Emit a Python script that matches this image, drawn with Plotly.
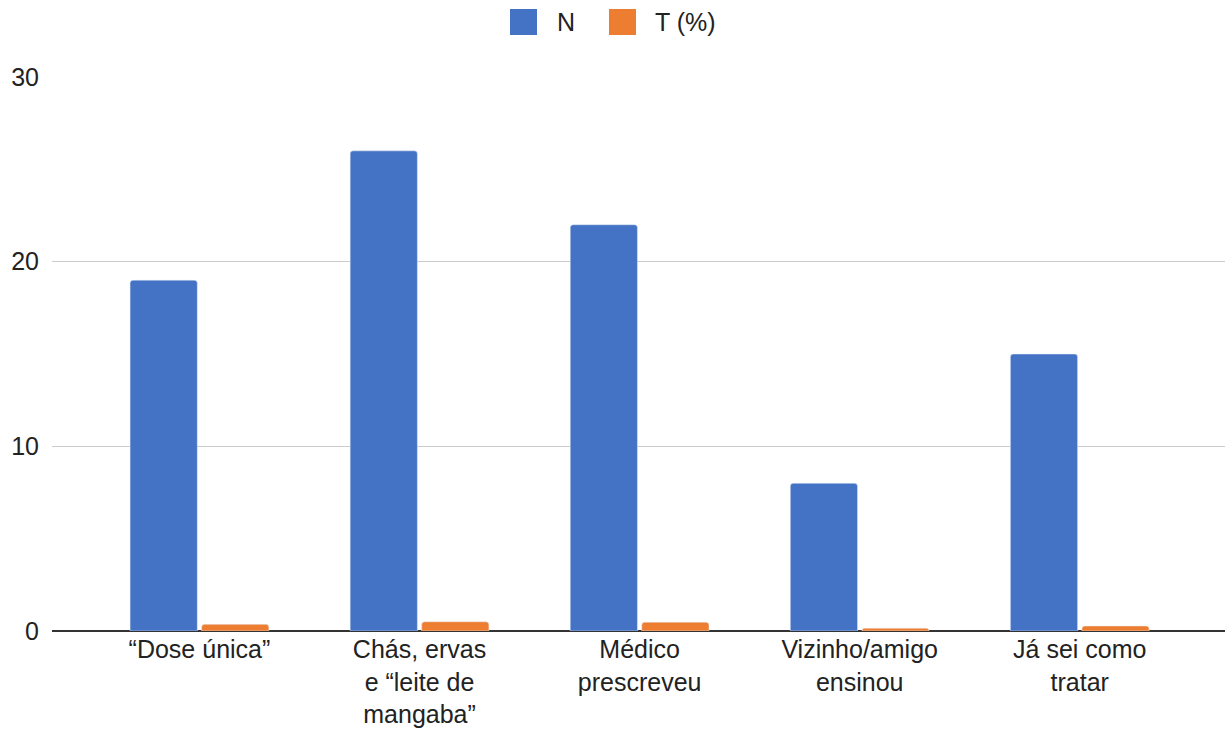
import plotly.graph_objects as go

categories = [
    "“Dose única”",
    "Chás, ervas<br>e “leite de<br>mangaba”",
    "Médico<br>prescreveu",
    "Vizinho/amigo<br>ensinou",
    "Já sei como<br>tratar",
]
n_values = [19, 26, 22, 8, 15]
t_values = [0.36, 0.5, 0.48, 0.15, 0.27]
y_ticks = [0, 10, 20, 30]
series_names = ["N", "T (%)"]
series_colors = ["#4472C4", "#ED7D31"]

FONT = "Liberation Sans, Arial, sans-serif"
W, H = 1225, 732
ML, MR, MT, MB = 52, 0, 77, 101
PW, PH = W - ML - MR, H - MT - MB


def px_x(x):
    return (x - ML) / PW


def px_y(y):
    return (H - MB - y) / PH


fig = go.Figure()
for name, vals, color in zip(series_names, [n_values, t_values], series_colors):
    fig.add_trace(go.Bar(x=categories, y=vals, name=name, marker_color=color,
                         showlegend=False))

# Legend drawn as large squares with labels, centred above the plot
legend_items = [(510, 555, series_names[0], series_colors[0]),
                (609, 653, series_names[1], series_colors[1])]
for sx, tx, label, color in legend_items:
    fig.add_shape(type="rect", xref="paper", yref="paper",
                  x0=px_x(sx), x1=px_x(sx + 27), y0=px_y(35), y1=px_y(9),
                  fillcolor=color, line=dict(width=0))
    fig.add_annotation(xref="paper", yref="paper", x=px_x(tx), y=px_y(22),
                       xanchor="left", yanchor="middle", text=label,
                       showarrow=False, font=dict(size=25, color="#222222"))

fig.update_layout(
    width=W,
    height=H,
    margin=dict(l=ML, r=MR, t=MT, b=MB),
    plot_bgcolor="white",
    paper_bgcolor="white",
    font=dict(family=FONT, size=25, color="#222222"),
    barmode="group",
    bargap=0.35,
    bargroupgap=0.06,
    barcornerradius=3,
    showlegend=False,
)
fig.update_xaxes(
    range=[-0.67, 4.66],
    showgrid=False,
    showline=False,
    ticks="",
    ticklabelstandoff=1,
    automargin=False,
    tickfont=dict(size=25),
)
fig.update_yaxes(
    range=[0, 30],
    tickvals=y_ticks,
    showgrid=True,
    gridcolor="#CCCCCC",
    gridwidth=1,
    zeroline=True,
    zerolinecolor="#333333",
    zerolinewidth=2,
    showline=False,
    ticks="",
    ticklabelstandoff=12,
    automargin=False,
    tickfont=dict(size=25),
)

fig.write_html("out.html")
